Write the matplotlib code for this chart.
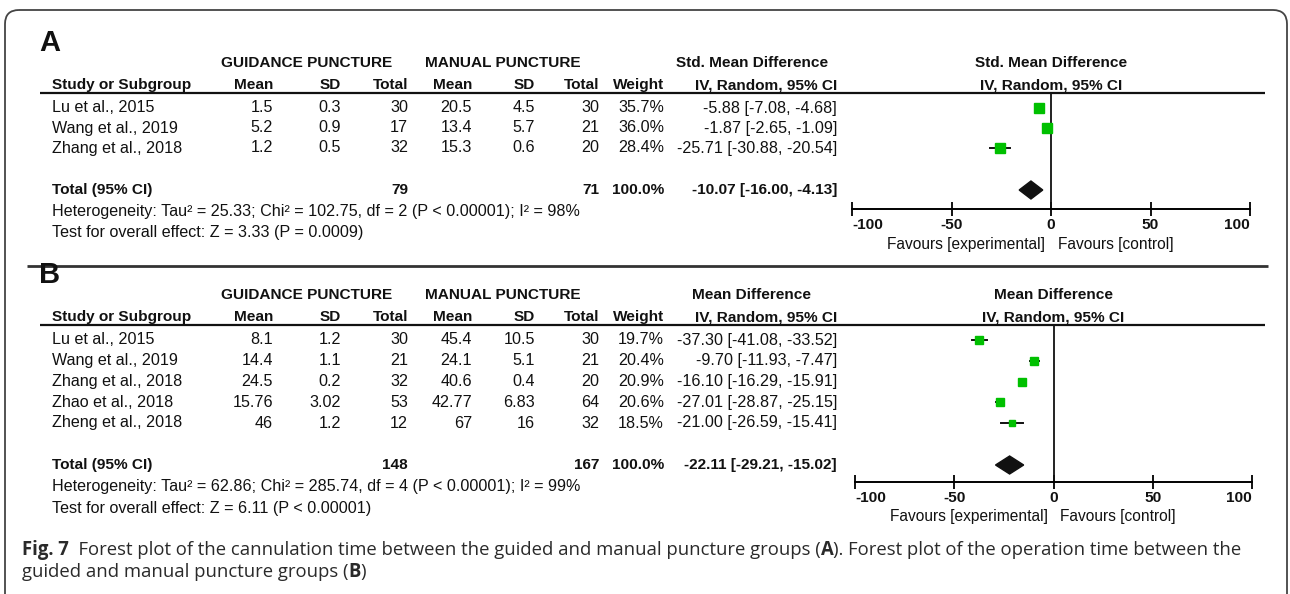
import numpy as np
import matplotlib
matplotlib.use("Agg")
import matplotlib.pyplot as plt
import matplotlib.transforms as mtransforms
from matplotlib.patches import FancyBboxPatch, Polygon

plt.rcParams["font.family"] = ["Liberation Sans", "DejaVu Sans"]
plt.rcParams["axes.unicode_minus"] = False
INK = "#111111"
GREEN = "#00c000"

# (A) cannulation time, std. mean difference
A_study = ["Lu et al., 2015", "Wang et al., 2019", "Zhang et al., 2018"]
A_g_mean = [1.5, 5.2, 1.2]
A_g_sd = [0.3, 0.9, 0.5]
A_g_n = [30, 17, 32]
A_m_mean = [20.5, 13.4, 15.3]
A_m_sd = [4.5, 5.7, 0.6]
A_m_n = [30, 21, 20]
A_weight = [35.7, 36.0, 28.4]
A_est = [-5.88, -1.87, -25.71]
A_lo = [-7.08, -2.65, -30.88]
A_hi = [-4.68, -1.09, -20.54]
A_total = (79, 71, -10.07, -16.00, -4.13)
A_het = "Heterogeneity: Tau² = 25.33; Chi² = 102.75, df = 2 (P < 0.00001); I² = 98%"
A_test = "Test for overall effect: Z = 3.33 (P = 0.0009)"

# (B) operation time, mean difference
B_study = ["Lu et al., 2015", "Wang et al., 2019", "Zhang et al., 2018",
           "Zhao et al., 2018", "Zheng et al., 2018"]
B_g_mean = [8.1, 14.4, 24.5, 15.76, 46]
B_g_sd = [1.2, 1.1, 0.2, 3.02, 1.2]
B_g_n = [30, 21, 32, 53, 12]
B_m_mean = [45.4, 24.1, 40.6, 42.77, 67]
B_m_sd = [10.5, 5.1, 0.4, 6.83, 16]
B_m_n = [30, 21, 20, 64, 32]
B_weight = [19.7, 20.4, 20.9, 20.6, 18.5]
B_est = [-37.30, -9.70, -16.10, -27.01, -21.00]
B_lo = [-41.08, -11.93, -16.29, -28.87, -26.59]
B_hi = [-33.52, -7.47, -15.91, -25.15, -15.41]
B_total = (148, 167, -22.11, -29.21, -15.02)
B_het = "Heterogeneity: Tau² = 62.86; Chi² = 285.74, df = 4 (P < 0.00001); I² = 99%"
B_test = "Test for overall effect: Z = 6.11 (P < 0.00001)"

xticks = [-100, -50, 0, 50, 100]

W, H = 1290, 594
fig = plt.figure(figsize=(W / 100, H / 100), dpi=100)
ax = fig.add_axes([0, 0, 1, 1])
ax.set_xlim(0, W); ax.set_ylim(H, 0); ax.axis("off")

ax.add_patch(FancyBboxPatch((5, 10), 1282, 640, boxstyle="round,pad=0,rounding_size=14",
                            ec="#444444", fc="none", lw=1.3, clip_on=True))

FS = 11.6     # body rows
FSB = 11.1    # bold headers
COLS = dict(g_mean=273, g_sd=341, g_n=408, m_mean=472, m_sd=535, m_n=599, w=664, ci=837)


def fmt_ci(e, l, h):
    return f"{e:.2f} [{l:.2f}, {h:.2f}]"


def panel(letter, top, eff_title, study, g_mean, g_sd, g_n, m_mean, m_sd, m_n,
          weight, est, lo, hi, total, het, test, fx0, fx1, step, sq_scale, axis_gap):
    t = dict(color=INK, fontsize=FS, va="center")
    tb = dict(color=INK, fontsize=FSB, va="center", fontweight="bold")
    ax.text(39, top - 20, letter, fontsize=21, fontweight="bold", color=INK, va="center")
    ax.text(307, top, "GUIDANCE PUNCTURE", ha="center", **tb)
    ax.text(503, top, "MANUAL PUNCTURE", ha="center", **tb)
    ax.text(752, top, eff_title, ha="center", **tb)
    fmid = (fx0 + fx1) / 2
    ax.text(fmid, top, eff_title, ha="center", **tb)
    hy = top + 22
    ax.text(52, hy, "Study or Subgroup", **tb)
    for key, lab in [("g_mean", "Mean"), ("g_sd", "SD"), ("g_n", "Total"),
                     ("m_mean", "Mean"), ("m_sd", "SD"), ("m_n", "Total"),
                     ("w", "Weight"), ("ci", "IV, Random, 95% CI")]:
        ax.text(COLS[key], hy, lab, ha="right", **tb)
    ax.text(fmid, hy, "IV, Random, 95% CI", ha="center", **tb)
    uy = hy + 7.5
    ax.plot([40, 1265], [uy, uy], color=INK, lw=1.6, solid_capstyle="butt")

    ry0 = top + 45
    rows = ry0 + step * np.arange(len(study))
    for i, y in enumerate(rows):
        ax.text(52, y, study[i], **t)
        vals = [f"{g_mean[i]:g}", f"{g_sd[i]:g}", str(g_n[i]), f"{m_mean[i]:g}",
                f"{m_sd[i]:g}", str(m_n[i]), f"{weight[i]:.1f}%", fmt_ci(est[i], lo[i], hi[i])]
        for key, s in zip(["g_mean", "g_sd", "g_n", "m_mean", "m_sd", "m_n", "w", "ci"], vals):
            ax.text(COLS[key], y, s, ha="right", **t)

    ty = rows[-1] + 42
    ax.text(52, ty, "Total (95% CI)", **tb)
    ax.text(COLS["g_n"], ty, str(total[0]), ha="right", **tb)
    ax.text(COLS["m_n"], ty, str(total[1]), ha="right", **tb)
    ax.text(COLS["w"], ty, "100.0%", ha="right", **tb)
    ax.text(COLS["ci"], ty, fmt_ci(*total[2:]), ha="right", **tb)
    ax.text(52, ty + 21.5, het, **t)
    ax.text(52, ty + 43, test, **t)

    # forest panel: x in effect units, y in page pixels
    ay = ty + axis_gap
    fax = fig.add_axes([fx0 / W, 1 - ay / H, (fx1 - fx0) / W, (ay - uy) / H])
    fax.set_xlim(-100, 100); fax.set_ylim(ay, uy)
    fax.patch.set_visible(False)
    for s in ["top", "left", "right"]:
        fax.spines[s].set_visible(False)
    fax.spines["bottom"].set_linewidth(1.4)
    fax.set_yticks([])
    fax.set_xticks(xticks)
    fax.tick_params(axis="x", direction="inout", length=10, width=1.4, pad=1.5,
                    labelsize=FSB, colors=INK)
    labs = fax.get_xticklabels()
    for lb in labs:
        lb.set_fontweight("bold")
    labs[0].set_ha("left"); labs[-1].set_ha("right")
    fax.axvline(0, color=INK, lw=1.3)
    for i, y in enumerate(rows):
        fax.plot([lo[i], hi[i]], [y, y], color=INK, lw=1.4)
        fax.plot(est[i], y, marker="s", color=GREEN, mec=GREEN,
                 ms=sq_scale * np.sqrt(weight[i]) * 0.72, ls="none")
    e, l, h = total[2:]
    fax.add_patch(Polygon([(l, ty), (e, ty - 9), (h, ty), (e, ty + 9)],
                          closed=True, fc=INK, ec=INK, lw=1))

    fy = ay + 35
    tr = mtransforms.blended_transform_factory(fax.transData, ax.transData)
    ax.text(0, fy, "Favours [experimental]", ha="right", va="center", fontsize=11.2,
            color=INK, transform=mtransforms.offset_copy(tr, fig=fig, x=-6, units="dots"))
    ax.text(0, fy, "Favours [control]", ha="left", va="center", fontsize=11.2,
            color=INK, transform=mtransforms.offset_copy(tr, fig=fig, x=7, units="dots"))


panel("A", 63, "Std. Mean Difference", A_study, A_g_mean, A_g_sd, A_g_n, A_m_mean, A_m_sd,
      A_m_n, A_weight, A_est, A_lo, A_hi, A_total, A_het, A_test, 852, 1250, 20.0, 1.72, 19)
ax.plot([27, 1268], [266, 266], color="#333333", lw=2.0, solid_capstyle="butt")
panel("B", 295, "Mean Difference", B_study, B_g_mean, B_g_sd, B_g_n, B_m_mean, B_m_sd,
      B_m_n, B_weight, B_est, B_lo, B_hi, B_total, B_het, B_test, 855, 1252, 20.75, 1.6, 17)

# caption with bold runs, sized so the first line reaches the right margin
renderer = fig.canvas.get_renderer()
CAP = "#2a2a2a"
CAP_FAMILY = ["Open Sans", "DejaVu Sans"]


def runs(x, y, parts, size):
    made = []
    for s, bold in parts:
        tx = ax.text(x, y, s, fontsize=size, family=CAP_FAMILY,
                     fontweight="bold" if bold else "normal", color=CAP, va="baseline")
        x += tx.get_window_extent(renderer).width
        made.append(tx)
    return x, made


line1 = [("Fig. 7", True), ("  Forest plot of the cannulation time between the guided and manual puncture groups (", False),
         ("A", True), ("). Forest plot of the operation time between the", False)]
line2 = [("guided and manual puncture groups (", False), ("B", True), (")", False)]
x_end, tmp = runs(22, 556, line1, 12)
for tx in tmp:
    tx.remove()
cap_size = 12 * (1238 - 22) / (x_end - 22)
runs(22, 555, line1, cap_size)
runs(22, 577, line2, cap_size)

fig.savefig("out.png", dpi=100)
